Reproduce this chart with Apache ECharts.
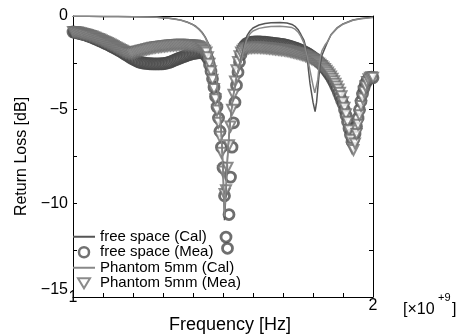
<!DOCTYPE html>
<html>
<head>
<meta charset="utf-8">
<script src="https://cdn.jsdelivr.net/npm/echarts@6/dist/echarts.min.js"></script>
<style>
html,body{margin:0;padding:0;background:#fff;}
#chart{width:457px;height:335px;}
</style>
</head>
<body>
<div id="chart"></div>
<script>
// Frequency grid of the measured data [GHz]
const freqStart = 1.0;
const freqStep = 0.005;

// free space (Mea), one value per grid step [dB]
const fsMea = [
-0.85,-0.86,-0.88,-0.9,-0.92,-0.94,-0.96,-0.98,-1.0,-1.03,
-1.06,-1.09,-1.12,-1.15,-1.19,-1.22,-1.25,-1.29,-1.33,-1.36,
-1.4,-1.44,-1.48,-1.51,-1.55,-1.6,-1.64,-1.68,-1.72,-1.76,
-1.81,-1.86,-1.9,-1.95,-2.0,-2.05,-2.1,-2.15,-2.2,-2.25,
-2.3,-2.34,-2.38,-2.42,-2.45,-2.48,-2.5,-2.51,-2.52,-2.53,
-2.54,-2.55,-2.55,-2.56,-2.56,-2.56,-2.56,-2.56,-2.56,-2.55,
-2.55,-2.54,-2.52,-2.5,-2.48,-2.45,-2.42,-2.38,-2.35,-2.32,
-2.28,-2.25,-2.22,-2.19,-2.16,-2.13,-2.1,-2.07,-2.05,-2.02,
-2.0,-1.99,-1.98,-1.97,-1.96,-1.95,-1.96,-1.98,-2.05,-2.15,
-2.3,-2.6,-2.95,-3.35,-3.8,-4.3,-4.85,-5.45,-6.15,-7.0,
-8.1,-9.6,-11.8,-12.4,-10.6,-8.6,-7.0,-5.7,-4.6,-3.7,
-3.0,-2.45,-2.05,-1.8,-1.62,-1.52,-1.46,-1.43,-1.41,-1.4,
-1.39,-1.38,-1.38,-1.38,-1.38,-1.38,-1.39,-1.4,-1.4,-1.41,
-1.42,-1.43,-1.44,-1.45,-1.46,-1.47,-1.48,-1.49,-1.5,-1.51,
-1.52,-1.54,-1.56,-1.58,-1.6,-1.62,-1.65,-1.67,-1.7,-1.73,
-1.76,-1.79,-1.82,-1.86,-1.9,-1.94,-1.98,-2.03,-2.08,-2.14,
-2.2,-2.26,-2.32,-2.38,-2.45,-2.53,-2.62,-2.71,-2.8,-2.91,
-3.02,-3.13,-3.25,-3.4,-3.55,-3.72,-3.9,-4.1,-4.3,-4.5,
-4.7,-5.0,-5.3,-5.65,-6.0,-6.35,-6.7,-6.6,-6.3,-5.9,
-5.45,-5.0,-4.55,-4.15,-3.85,-3.6,-3.45,-3.35,-3.28,-3.26,-3.3
];

// Phantom 5mm (Mea), one value per grid step [dB]
const pMea = [
-0.85,-0.86,-0.87,-0.88,-0.9,-0.92,-0.94,-0.96,-0.97,-1.0,
-1.02,-1.05,-1.07,-1.1,-1.13,-1.16,-1.2,-1.23,-1.26,-1.3,
-1.33,-1.37,-1.4,-1.44,-1.48,-1.52,-1.56,-1.6,-1.65,-1.69,
-1.74,-1.78,-1.82,-1.86,-1.9,-1.93,-1.95,-1.97,-1.99,-2.0,
-1.98,-1.95,-1.92,-1.9,-1.88,-1.86,-1.84,-1.82,-1.8,-1.78,
-1.76,-1.74,-1.72,-1.7,-1.69,-1.67,-1.66,-1.65,-1.64,-1.63,
-1.62,-1.61,-1.6,-1.59,-1.58,-1.57,-1.56,-1.56,-1.55,-1.55,
-1.54,-1.54,-1.54,-1.54,-1.55,-1.55,-1.55,-1.56,-1.56,-1.57,
-1.57,-1.58,-1.6,-1.62,-1.64,-1.68,-1.72,-1.8,-1.86,-1.95,
-2.2,-2.55,-2.95,-3.4,-3.9,-4.45,-5.05,-5.7,-6.45,-7.3,
-8.3,-9.5,-9.3,-8.1,-6.9,-5.9,-5.0,-4.2,-3.5,-2.9,
-2.45,-2.15,-1.95,-1.85,-1.78,-1.75,-1.72,-1.71,-1.7,-1.69,
-1.68,-1.68,-1.68,-1.68,-1.68,-1.69,-1.7,-1.7,-1.71,-1.71,
-1.72,-1.73,-1.74,-1.75,-1.76,-1.77,-1.78,-1.79,-1.8,-1.81,
-1.82,-1.83,-1.85,-1.86,-1.88,-1.9,-1.92,-1.94,-1.96,-1.98,
-2.0,-2.02,-2.05,-2.07,-2.1,-2.13,-2.16,-2.2,-2.24,-2.28,
-2.32,-2.37,-2.42,-2.48,-2.54,-2.6,-2.67,-2.75,-2.83,-2.92,
-3.02,-3.12,-3.23,-3.35,-3.48,-3.62,-3.77,-3.92,-4.1,-4.28,
-4.6,-4.9,-5.25,-5.65,-6.1,-6.6,-7.05,-7.15,-6.8,-6.3,
-5.8,-5.3,-4.8,-4.4,-4.05,-3.75,-3.52,-3.38,-3.3,-3.27,-3.3
];

// free space (Cal): [frequency GHz, dB]
const fsCal = [
[1.00,-0.02],[1.05,-0.02],[1.10,-0.03],[1.15,-0.03],[1.20,-0.04],[1.25,-0.05],[1.28,-0.07],[1.30,-0.09],
[1.32,-0.12],[1.34,-0.16],[1.36,-0.22],[1.38,-0.32],[1.40,-0.46],[1.41,-0.56],[1.42,-0.7],[1.43,-0.87],
[1.44,-1.1],[1.45,-1.42],[1.46,-1.9],[1.47,-2.55],[1.475,-3.0],[1.48,-3.5],[1.485,-4.2],[1.49,-5.1],
[1.495,-6.4],[1.50,-8.1],[1.505,-10.9],[1.51,-9.4],[1.515,-7.6],[1.52,-6.4],[1.525,-5.5],[1.53,-4.8],
[1.535,-4.2],[1.54,-3.7],[1.545,-3.3],[1.55,-2.95],[1.555,-2.7],[1.56,-2.4],[1.565,-2.0],[1.57,-1.6],
[1.575,-1.25],[1.58,-1.05],[1.59,-0.8],[1.60,-0.64],[1.62,-0.48],[1.64,-0.4],[1.66,-0.36],[1.69,-0.35],
[1.713,-0.37],[1.73,-0.45],[1.74,-0.55],[1.75,-0.72],[1.76,-1.0],[1.77,-1.3],[1.775,-1.6],[1.78,-2.1],
[1.785,-2.9],[1.79,-3.6],[1.80,-4.6],[1.807,-5.1],[1.812,-4.6],[1.818,-3.5],[1.823,-2.7],[1.83,-2.1],
[1.84,-1.7],[1.847,-1.44],[1.86,-1.0],[1.88,-0.64],[1.90,-0.42],[1.933,-0.21],[1.96,-0.13],[2.00,-0.06]
];

// Phantom 5mm (Cal): [frequency GHz, dB]
const pCal = [
[1.00,-0.02],[1.05,-0.02],[1.10,-0.03],[1.15,-0.03],[1.20,-0.04],[1.25,-0.05],[1.28,-0.07],[1.30,-0.09],
[1.32,-0.12],[1.34,-0.17],[1.36,-0.23],[1.38,-0.33],[1.40,-0.47],[1.41,-0.58],[1.42,-0.72],[1.43,-0.9],
[1.44,-1.13],[1.45,-1.46],[1.46,-1.95],[1.47,-2.6],[1.475,-3.05],[1.48,-3.6],[1.485,-4.3],[1.49,-5.2],
[1.495,-6.5],[1.50,-8.2],[1.505,-10.7],[1.51,-9.2],[1.515,-7.5],[1.52,-6.3],[1.525,-5.45],[1.53,-4.75],
[1.535,-4.15],[1.54,-3.65],[1.545,-3.25],[1.55,-2.95],[1.555,-2.7],[1.56,-2.45],[1.565,-2.1],[1.57,-1.75],
[1.575,-1.45],[1.58,-1.22],[1.59,-0.95],[1.60,-0.8],[1.62,-0.66],[1.64,-0.6],[1.66,-0.56],[1.69,-0.55],
[1.71,-0.57],[1.73,-0.62],[1.74,-0.7],[1.75,-0.85],[1.76,-1.1],[1.77,-1.45],[1.78,-2.1],[1.79,-2.9],
[1.80,-3.7],[1.806,-4.1],[1.812,-4.2],[1.816,-3.4],[1.82,-2.7],[1.825,-2.15],[1.83,-1.85],[1.84,-1.55],
[1.847,-1.4],[1.86,-1.0],[1.88,-0.66],[1.90,-0.44],[1.933,-0.23],[1.96,-0.15],[2.00,-0.08]
];

const seriesNames = ['free space (Cal)', 'free space (Mea)', 'Phantom 5mm (Cal)', 'Phantom 5mm (Mea)'];
const xTickLabels = {1: '1', 2: '2'};
const yTickLabels = {'0': '0', '-5': '\u22125', '-10': '\u221210', '-15': '\u221215'};

const toPairs = arr => arr.map((v, i) => [+(freqStart + freqStep * i).toFixed(3), v]);

const FONT = '"Liberation Sans", Arial, sans-serif';
const chart = echarts.init(document.getElementById('chart'), null, {renderer: 'canvas'});

const tickStyle = {show: true, inside: true, length: 4, lineStyle: {color: '#000', width: 1}};
const lineStyleAxis = {show: true, onZero: false, lineStyle: {color: '#000', width: 1}};

const lineIcon = 'path://M0,0H22V2H0Z';
const triIcon = 'path://M0,0L12,0L6,10Z';

chart.setOption({
  animation: false,
  backgroundColor: '#fff',
  grid: {left: 73, right: 84, top: 16, bottom: 38, containLabel: false, outerBoundsMode: 'none'},
  legend: {
    data: [
      {name: seriesNames[0], icon: lineIcon, itemStyle: {color: '#555', borderWidth: 0}},
      {name: seriesNames[1], icon: 'circle', itemStyle: {color: '#fff', borderColor: '#4d4d4d', borderWidth: 2.5}},
      {name: seriesNames[2], icon: lineIcon, itemStyle: {color: '#888', borderWidth: 0}},
      {name: seriesNames[3], icon: triIcon, itemStyle: {color: '#fff', borderColor: '#6e6e6e', borderWidth: 2}}
    ],
    orient: 'vertical',
    left: 73, top: 229, padding: 0,
    itemWidth: 22, itemHeight: 10, itemGap: 0,
    textStyle: {fontFamily: FONT, fontSize: 15, lineHeight: 15.5, color: '#000'},
    selectedMode: false
  },
  xAxis: [{
    type: 'value', min: 1, max: 2, interval: 0.1,
    axisLine: lineStyleAxis, axisTick: tickStyle, splitLine: {show: false},
    axisLabel: {
      fontFamily: FONT, fontSize: 16, color: '#000', margin: 9, verticalAlign: 'middle',
      formatter: v => {
        const k = Math.round(v * 10) / 10;
        if (Math.abs(k - 1) < 1e-6) return '{s|' + xTickLabels[1] + '}';
        if (Math.abs(k - 2) < 1e-6) return xTickLabels[2];
        return '';
      },
      rich: {s: {fontFamily: FONT, fontSize: 16, color: '#000', padding: [0, 0, 16, 0]}}
    },
    name: 'Frequency [Hz]', nameLocation: 'middle', nameGap: 19, nameMoveOverlap: false,
    nameTextStyle: {fontFamily: FONT, fontSize: 18, color: '#000', padding: [0, 0, 0, 14]}
  }, {
    type: 'value', position: 'top', min: 1, max: 2, interval: 0.1,
    axisLine: lineStyleAxis, axisTick: tickStyle, splitLine: {show: false}, axisLabel: {show: false}
  }],
  yAxis: [{
    type: 'value', min: -15, max: 0, interval: 2.5,
    axisLine: lineStyleAxis, axisTick: tickStyle, splitLine: {show: false},
    axisLabel: {
      fontFamily: FONT, fontSize: 16, color: '#000', margin: 5,
      formatter: v => {
        const key = String(Math.round(v * 10) / 10);
        const t = yTickLabels[key];
        if (!t) return '';
        return key === '-15' ? '{s|' + t + '}' : t;
      },
      rich: {s: {fontFamily: FONT, fontSize: 16, color: '#000', padding: [0, 0, 14, 0]}}
    },
    name: 'Return Loss [dB]', nameLocation: 'middle', nameGap: 43, nameRotate: 90, nameMoveOverlap: false,
    nameTextStyle: {fontFamily: FONT, fontSize: 16, color: '#000'}
  }, {
    type: 'value', position: 'right', min: -15, max: 0, interval: 2.5,
    axisLine: lineStyleAxis, axisTick: tickStyle, splitLine: {show: false}, axisLabel: {show: false}
  }],
  graphic: [
    {type: 'text', left: 403, top: 302, style: {text: '[\u00d710', font: '16px ' + FONT, fill: '#000'}},
    {type: 'text', left: 438, top: 292, style: {text: '+9', font: '11px ' + FONT, fill: '#000'}},
    {type: 'text', left: 452, top: 302, style: {text: ']', font: '16px ' + FONT, fill: '#000'}}
  ],
  series: [
    {
      name: seriesNames[1], type: 'scatter', data: toPairs(fsMea), clip: false,
      symbol: 'circle', symbolSize: 10,
      itemStyle: {color: '#fff', borderColor: '#4a4a4a', borderWidth: 2.8},
      emphasis: {disabled: true}, z: 2
    },
    {
      name: seriesNames[3], type: 'scatter', data: toPairs(pMea), clip: false,
      symbol: 'triangle', symbolSize: 10, symbolRotate: 180,
      itemStyle: {color: '#fff', borderColor: '#6e6e6e', borderWidth: 2},
      emphasis: {disabled: true}, z: 3
    },
    {
      name: seriesNames[0], type: 'line', data: fsCal, symbol: 'none', showSymbol: false,
      lineStyle: {color: '#555', width: 1.5}, itemStyle: {color: '#555'},
      emphasis: {disabled: true}, z: 4
    },
    {
      name: seriesNames[2], type: 'line', data: pCal, symbol: 'none', showSymbol: false,
      lineStyle: {color: '#888', width: 1.5}, itemStyle: {color: '#888'},
      emphasis: {disabled: true}, z: 5
    }
  ]
});
</script>
</body>
</html>
